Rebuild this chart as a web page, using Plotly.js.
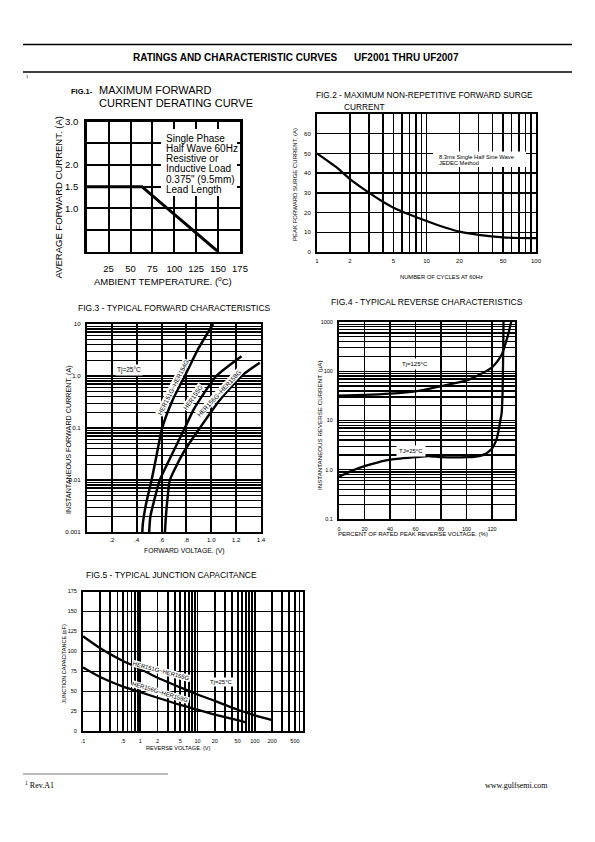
<!DOCTYPE html>
<html><head><meta charset="utf-8">
<script src="https://cdn.plot.ly/plotly-3.0.1.min.js"></script>
<style>html,body{margin:0;padding:0;background:#fff}#chart{width:595px;height:842px}</style>
</head><body><div id="chart"></div>
<script>
// ---------- FIG.1 data ----------
const fig1Temp = [0, 63, 150];
const fig1Current = [1.5, 1.5, 0];
const fig1XTicks = [0, 25, 50, 75, 100, 125, 150, 175];
const fig1XText = ['', '25', '50', '75', '100', '125', '150', '175'];
const fig1YTicks = [0, 0.5, 1, 1.5, 2, 2.5, 3];
const fig1YText = ['', '', '1.0', '1.5', '2.0', '', '3.0'];
const fig1Note = ['Single Phase', 'Half Wave 60Hz', 'Resistive or', 'Inductive Load', '0.375" (9.5mm)', 'Lead Length'];

// ---------- FIG.2 data ----------
const fig2Cycles = [1, 1.5, 2, 3, 4, 5, 7, 10, 15, 20, 30, 50, 70, 100];
const fig2Surge = [50, 43, 37, 30, 25.5, 22.5, 19, 15.7, 12.3, 10.3, 8.7, 7.4, 7.1, 7];
const fig2XTicks = [1, 2, 3, 4, 5, 6, 7, 8, 9, 10, 20, 30, 40, 50, 60, 70, 80, 90, 100];
const fig2XText = ['1', '2', '', '', '5', '', '', '', '', '10', '20', '', '', '50', '', '', '', '', '100'];
const fig2YTicks = [0, 10, 20, 30, 40, 50, 60, 70];
const fig2YText = ['0', '10', '20', '30', '40', '50', '60', ''];

// ---------- FIG.3 data ----------
const fig3VoltA = [0.445, 0.45, 0.47, 0.49, 0.52, 0.56, 0.605, 0.69, 0.787, 0.9, 1.015];
const fig3CurrA = [0.001, 0.0015, 0.003, 0.005, 0.01, 0.03, 0.1, 0.35, 1, 3.5, 10];
const fig3VoltB = [0.50, 0.51, 0.54, 0.586, 0.68, 0.787, 0.86, 0.95, 1.04, 1.243];
const fig3CurrB = [0.001, 0.002, 0.004, 0.01, 0.03, 0.1, 0.23, 0.5, 1, 2.4];
const fig3VoltC = [0.627, 0.635, 0.65, 0.667, 0.78, 0.908, 1.07, 1.243, 1.39];
const fig3CurrC = [0.001, 0.002, 0.005, 0.01, 0.035, 0.1, 0.35, 1.0, 1.8];
const fig3XTicks = [0, 0.2, 0.4, 0.6, 0.8, 1.0, 1.2, 1.4];
const fig3XText = ['', '.2', '.4', '.6', '.8', '1.0', '1.2', '1.4'];
const fig3YTicks = [0.001, 0.002, 0.003, 0.004, 0.005, 0.006, 0.007, 0.008, 0.009,
  0.01, 0.02, 0.03, 0.04, 0.05, 0.06, 0.07, 0.08, 0.09,
  0.1, 0.2, 0.3, 0.4, 0.5, 0.6, 0.7, 0.8, 0.9,
  1, 2, 3, 4, 5, 6, 7, 8, 9, 10];
const fig3YText = ['0.001', '', '', '', '', '', '', '', '',
  '0.01', '', '', '', '', '', '', '', '',
  '0.1', '', '', '', '', '', '', '', '',
  '1.0', '', '', '', '', '', '', '', '', '10'];
const fig3Labels = ['HER151G~HER154G', 'HER155G', 'HER156G~HER158G'];

// ---------- FIG.4 data ----------
const fig4PctHot = [0, 20, 40, 60, 80, 100, 110, 120, 125, 128, 131, 133, 135];
const fig4CurHot = [32, 33, 35, 39, 50, 65, 85, 120, 170, 230, 400, 600, 1000];
const fig4PctCold = [0, 10, 20, 30, 40, 60, 70, 75, 80, 100, 110, 115, 120, 123, 125, 126.5, 127.5, 128.3, 128.7, 129];
const fig4CurCold = [0.72, 0.95, 1.18, 1.4, 1.6, 1.8, 1.9, 1.85, 1.8, 1.8, 1.9, 2.1, 2.7, 3.8, 6, 10, 14, 40, 200, 1000];
const fig4XTicks = [0, 20, 40, 60, 80, 100, 120];
const fig4XText = ['0', '20', '40', '60', '80', '100', '120'];
const fig4YTicks = [0.1, 0.2, 0.3, 0.4, 0.5, 0.6, 0.7, 0.8, 0.9,
  1, 2, 3, 4, 5, 6, 7, 8, 9,
  10, 20, 30, 40, 50, 60, 70, 80, 90,
  100, 200, 300, 400, 500, 600, 700, 800, 900, 1000];
const fig4YText = ['0.1', '', '', '', '', '', '', '', '',
  '1.0', '', '', '', '', '', '', '', '',
  '10', '', '', '', '', '', '', '', '',
  '100', '', '', '', '', '', '', '', '', '1000'];

// ---------- FIG.5 data ----------
const fig5VoltA = [0.1, 0.2, 0.5, 1, 2, 5, 10, 20, 50, 100, 200];
const fig5CapA = [119, 104, 88, 78, 67, 55, 46, 38, 27, 20, 14];
const fig5VoltB = [0.1, 0.2, 0.5, 1, 2, 5, 10, 20, 50, 70];
const fig5CapB = [80, 68, 56, 49, 42, 33, 27, 21, 14, 11];
const fig5XTicks = [0.1, 0.2, 0.3, 0.4, 0.5, 0.6, 0.7, 0.8, 0.9,
  1, 2, 3, 4, 5, 6, 7, 8, 9,
  10, 20, 30, 40, 50, 60, 70, 80, 90,
  100, 200, 300, 400, 500, 600];
const fig5XText = ['.1', '', '', '', '.5', '', '', '', '',
  '1', '2', '', '', '5', '', '', '', '',
  '10', '20', '', '', '50', '', '', '', '',
  '100', '200', '', '', '500', ''];
const fig5YTicks = [0, 25, 50, 75, 100, 125, 150, 175];
const fig5YText = ['0', '25', '50', '75', '100', '125', '150', '175'];
const fig5Labels = ['HER151G~HER155G', 'HER156G~HER158G'];

// ---------- helpers (page pixel -> paper) ----------
const W = 595, H = 842;
const FONT = 'Liberation Sans, Arial, Helvetica, sans-serif';
const SERIF = 'Liberation Serif, Times New Roman, serif';
const px = v => v / W;
const py = v => 1 - v / H;

function ax(d0, d1, anchor, o) {
  return Object.assign({
    domain: [d0, d1], anchor: anchor, showline: true, mirror: true,
    linecolor: '#000', linewidth: 2, showgrid: true, gridcolor: '#000',
    zeroline: false, ticks: '', tickmode: 'array', fixedrange: true,
    tickfont: {family: FONT, size: 6, color: '#000'}
  }, o);
}
function ann(text, x, y, o) {
  return Object.assign({
    text: text, x: px(x), y: py(y), xref: 'paper', yref: 'paper',
    showarrow: false, font: {family: FONT, size: 8, color: '#000'},
    xanchor: 'center', yanchor: 'middle'
  }, o);
}
const line = (w) => ({color: '#000', width: w, shape: 'spline', smoothing: 0.6});

const traces = [
  {x: fig1Temp, y: fig1Current, xaxis: 'x', yaxis: 'y', mode: 'lines', line: {color: '#000', width: 3}},
  {x: fig2Cycles, y: fig2Surge, xaxis: 'x2', yaxis: 'y2', mode: 'lines', line: line(2.2)},
  {x: fig3VoltA, y: fig3CurrA, xaxis: 'x3', yaxis: 'y3', mode: 'lines', line: line(2.5)},
  {x: fig3VoltB, y: fig3CurrB, xaxis: 'x3', yaxis: 'y3', mode: 'lines', line: line(2.5)},
  {x: fig3VoltC, y: fig3CurrC, xaxis: 'x3', yaxis: 'y3', mode: 'lines', line: line(2.5)},
  {x: fig4PctHot, y: fig4CurHot, xaxis: 'x4', yaxis: 'y4', mode: 'lines', line: line(2.3)},
  {x: fig4PctCold, y: fig4CurCold, xaxis: 'x4', yaxis: 'y4', mode: 'lines', line: {color: '#000', width: 2.3, shape: 'spline', smoothing: 0.4}},
  {x: fig5VoltA, y: fig5CapA, xaxis: 'x5', yaxis: 'y5', mode: 'lines', line: line(2.3)},
  {x: fig5VoltB, y: fig5CapB, xaxis: 'x5', yaxis: 'y5', mode: 'lines', line: line(2.3)}
];

const layout = {
  width: W, height: H, margin: {l: 0, r: 0, t: 0, b: 0},
  paper_bgcolor: '#fff', plot_bgcolor: '#fff', showlegend: false,
  font: {family: FONT, color: '#000'},
  // FIG.1
  xaxis: ax(px(86.7), px(240), 'y', {range: [0, 175], tickvals: fig1XTicks, ticktext: fig1XText,
    gridwidth: 2, linewidth: 2.5, tickfont: {family: FONT, size: 9.5, color: '#000'}, ticklabelstandoff: 6}),
  yaxis: ax(py(251.7), py(121.7), 'x', {range: [0, 3], tickvals: fig1YTicks, ticktext: fig1YText,
    gridwidth: 2, linewidth: 2.5, tickfont: {family: FONT, size: 9.5, color: '#000'}, ticklabelstandoff: 4}),
  // FIG.2
  xaxis2: ax(px(317), px(536), 'y2', {type: 'log', range: [0, 2], tickvals: fig2XTicks, ticktext: fig2XText,
    gridwidth: 1.5, ticklabelstandoff: 2}),
  yaxis2: ax(py(252), py(114), 'x2', {range: [0, 70], tickvals: fig2YTicks, ticktext: fig2YText,
    gridwidth: 1.5, ticklabelstandoff: 3}),
  // FIG.3
  xaxis3: ax(px(87), px(261), 'y3', {range: [0, 1.4], tickvals: fig3XTicks, ticktext: fig3XText,
    gridwidth: 2, tickfont: {family: FONT, size: 6.2, color: '#000'}, ticklabelstandoff: 1}),
  yaxis3: ax(py(532), py(324), 'x3', {type: 'log', range: [-3, 1], tickvals: fig3YTicks, ticktext: fig3YText,
    gridwidth: 1.3, tickfont: {family: FONT, size: 6.2, color: '#000'}, ticklabelstandoff: 3}),
  // FIG.4
  xaxis4: ax(px(339), px(515), 'y4', {range: [0, 138], tickvals: fig4XTicks, ticktext: fig4XText,
    gridwidth: 1.6, tickfont: {family: FONT, size: 5.5, color: '#000'}, ticklabelstandoff: 3}),
  yaxis4: ax(py(519), py(322), 'x4', {type: 'log', range: [-1, 3], tickvals: fig4YTicks, ticktext: fig4YText,
    gridwidth: 1.3, tickfont: {family: FONT, size: 5.5, color: '#000'}, ticklabelstandoff: 3}),
  // FIG.5
  xaxis5: ax(px(83), px(303), 'y5', {type: 'log', range: [-1, 2.84], tickvals: fig5XTicks, ticktext: fig5XText,
    gridwidth: 1.8, tickfont: {family: FONT, size: 5.5, color: '#000'}, ticklabelstandoff: 3}),
  yaxis5: ax(py(731.3), py(591.5), 'x5', {range: [0, 175], tickvals: fig5YTicks, ticktext: fig5YText,
    gridwidth: 1.5, tickfont: {family: FONT, size: 5.5, color: '#000'}, ticklabelstandoff: 3}),
  shapes: [
    {type: 'line', xref: 'paper', yref: 'paper', x0: px(23), x1: px(572), y0: py(44.5), y1: py(44.5), line: {color: '#000', width: 1.5}},
    {type: 'line', xref: 'paper', yref: 'paper', x0: px(23), x1: px(572), y0: py(72), y1: py(72), line: {color: '#000', width: 1.5}},
    {type: 'line', xref: 'paper', yref: 'paper', x0: px(23), x1: px(168), y0: py(774), y1: py(774), line: {color: '#777', width: 1}},
    // fig1 note box
    {type: 'rect', xref: 'paper', yref: 'paper', layer: 'above', x0: px(161), x1: px(237), y0: py(196), y1: py(129),
      fillcolor: '#fff', line: {width: 0}},
    // fig2 note box
    {type: 'rect', xref: 'paper', yref: 'paper', layer: 'above', x0: px(433), x1: px(526), y0: py(167), y1: py(151.5),
      fillcolor: '#fff', line: {width: 0}}
  ],
  annotations: [
    // header / footer
    ann('<b>RATINGS AND CHARACTERISTIC CURVES</b>', 131, 57, {xanchor: 'left', font: {family: FONT, size: 10, color: '#000'}}),
    ann('<b>UF2001 THRU UF2007</b>', 352, 57, {xanchor: 'left', font: {family: FONT, size: 10, color: '#000'}}),
    ann('1', 24, 77, {xanchor: 'left', font: {family: SERIF, size: 5, color: '#000'}}),
    ann('<sup>1</sup> Rev.A1', 23, 785, {xanchor: 'left', font: {family: SERIF, size: 8, color: '#000'}}),
    ann('www.gulfsemi.com', 550, 785, {xanchor: 'right', font: {family: SERIF, size: 8, color: '#000'}}),
    // FIG.1
    ann('<b>FIG.1-</b>', 69, 91, {xanchor: 'left', font: {family: FONT, size: 7.5, color: '#000'}}),
    ann('MAXIMUM FORWARD', 97, 90.5, {xanchor: 'left', font: {family: FONT, size: 11, color: '#000'}}),
    ann('CURRENT DERATING CURVE', 97, 103, {xanchor: 'left', font: {family: FONT, size: 11, color: '#000'}}),
    ann('AVERAGE FORWARD CURRENT. (A)', 58, 197.5, {textangle: -90, font: {family: FONT, size: 9.5, color: '#000'}}),
    ann('AMBIENT TEMPERATURE. (<sup>o</sup>C)', 163, 281.5, {font: {family: FONT, size: 9.5, color: '#000'}}),
    ...fig1Note.map((t, i) => ann(t, 163.5, 138.3 + i * 10.2, {xanchor: 'left', font: {family: FONT, size: 10, color: '#000'}})),
    // FIG.2
    ann('FIG.2 - MAXIMUM NON-REPETITIVE FORWARD SURGE', 314, 95.5, {xanchor: 'left', font: {family: FONT, size: 8.3, color: '#000'}}),
    ann('CURRENT', 342, 106.5, {xanchor: 'left', font: {family: FONT, size: 8.3, color: '#000'}}),
    ann('PEAK FORWARD SURGE CURRENT. (A)', 295, 185, {textangle: -90, font: {family: FONT, size: 6, color: '#000'}}),
    ann('NUMBER OF CYCLES AT 60Hz', 441.5, 277.5, {font: {family: FONT, size: 5.8, color: '#000'}}),
    ann('8.3ms Single Half Sine Wave', 437, 156.5, {xanchor: 'left', font: {family: FONT, size: 5.8, color: '#000'}}),
    ann('JEDEC Method', 437, 162.8, {xanchor: 'left', font: {family: FONT, size: 5.8, color: '#000'}}),
    // FIG.3
    ann('FIG.3 - TYPICAL FORWARD CHARACTERISTICS', 174.5, 308, {font: {family: FONT, size: 8.5, color: '#000'}}),
    ann('INSTANTANEOUS FORWARD CURRENT. (A)', 69, 440, {textangle: -90, font: {family: FONT, size: 7.2, color: '#000'}}),
    ann('FORWARD VOLTAGE. (V)', 184, 550.5, {font: {family: FONT, size: 6.8, color: '#000'}}),
    ann('Tj=25°C', 128.5, 370, {bgcolor: '#fff', borderpad: 1, font: {family: FONT, size: 6.5, color: '#000'}}),
    ann(fig3Labels[0], 172.5, 387, {textangle: -63, bgcolor: '#fff', borderpad: 0, font: {family: FONT, size: 6.3, color: '#000'}}),
    ann(fig3Labels[1], 192.5, 397, {textangle: -55, bgcolor: '#fff', borderpad: 0, font: {family: FONT, size: 6.3, color: '#000'}}),
    ann(fig3Labels[2], 218.5, 393, {textangle: -47, bgcolor: '#fff', borderpad: 0, font: {family: FONT, size: 6.3, color: '#000'}}),
    // FIG.4
    ann('FIG.4 - TYPICAL REVERSE CHARACTERISTICS', 427, 302.5, {font: {family: FONT, size: 8.6, color: '#000'}}),
    ann('INSTANTANEOUS REVERSE CURRENT. (µA)', 319.5, 425.5, {textangle: -90, font: {family: FONT, size: 6.2, color: '#000'}}),
    ann('PERCENT OF RATED PEAK REVERSE VOLTAGE. (%)', 413, 533.5, {font: {family: FONT, size: 6, color: '#000'}}),
    ann('Tj=125°C', 415, 364.5, {bgcolor: '#fff', borderpad: 2, font: {family: FONT, size: 6, color: '#000'}}),
    ann('TJ=25°C', 411, 451, {bgcolor: '#fff', borderpad: 2, font: {family: FONT, size: 6, color: '#000'}}),
    // FIG.5
    ann('FIG.5 - TYPICAL JUNCTION CAPACITANCE', 171, 575, {font: {family: FONT, size: 8.5, color: '#000'}}),
    ann('JUNCTION CAPACITANCE.(pF)', 63.5, 664, {textangle: -90, font: {family: FONT, size: 5.5, color: '#000'}}),
    ann('REVERSE VOLTAGE. (V)', 178.5, 747.5, {font: {family: FONT, size: 5.6, color: '#000'}}),
    ann('Tj=25°C', 221.5, 681.5, {bgcolor: '#fff', borderpad: 1, font: {family: FONT, size: 6, color: '#000'}}),
    ann(fig5Labels[0], 161.5, 670.5, {textangle: 15, bgcolor: '#fff', borderpad: 0, font: {family: FONT, size: 6, color: '#000'}}),
    ann(fig5Labels[1], 160, 691.5, {textangle: 17, bgcolor: '#fff', borderpad: 0, font: {family: FONT, size: 6, color: '#000'}})
  ]
};

Plotly.newPlot('chart', traces, layout, {staticPlot: true, displayModeBar: false});
</script></body></html>
